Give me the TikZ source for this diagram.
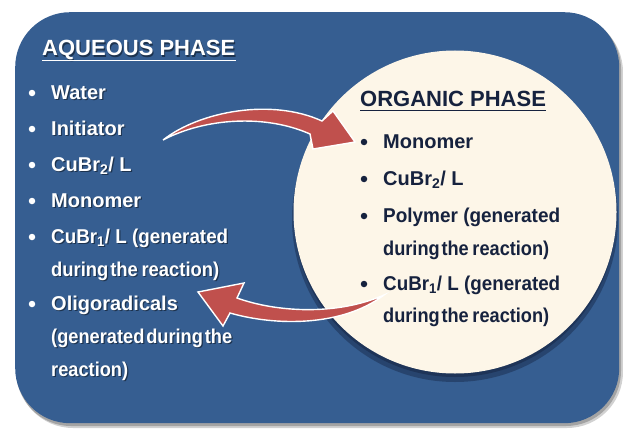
\documentclass[tikz,border=0pt]{standalone}
\usepackage{fontspec}
\usepackage{graphicx}
\setmainfont{Liberation Sans}
\definecolor{boxblue}{RGB}{54,94,145}
\definecolor{cream}{RGB}{253,246,232}
\definecolor{circshadow}{RGB}{30,52,88}
\definecolor{darktext}{RGB}{22,34,62}
\definecolor{arrowred}{RGB}{192,80,77}
\tikzset{
  itembase/.style={anchor=base west, inner sep=0pt, font=\bfseries\fontsize{20}{24}\selectfont},
  hdrbase/.style={anchor=base west, inner sep=0pt, font=\bfseries\fontsize{22}{26}\selectfont},
  wshadow/.style={text=black, opacity=0.45, xshift=1.2pt, yshift=-1.2pt},
  wbul/.style={circle, fill=white, inner sep=0pt, minimum size=6.5pt},
  dbul/.style={circle, fill=darktext, inner sep=0pt, minimum size=6.5pt},
  blockarrow/.style={fill=arrowred, draw=white, line width=1.4pt, line join=miter},
}
\newcommand\wline[4]{%
  \node[#1, wshadow] (#2s) at (#3) {#4};
  \node[#1, text=white] (#2) at (#3) {#4};}
\newcommand\fitw[2]{\resizebox{#1}{\height}{#2}}
\begin{document}
\begin{tikzpicture}[x=1pt,y=-1pt]
\useasboundingbox (0,0) rectangle (623,428);
% panel shadow
\fill[black, opacity=0.18, rounded corners=56] (17,16) rectangle (623,428);
\fill[black, opacity=0.22, rounded corners=55] (16,14) rectangle (621,426);
\node[fill=boxblue, rounded corners=55, minimum width=604pt, minimum height=411pt, inner sep=0pt, anchor=north west] (panel) at (15,12) {};
% circle
\fill[circshadow, opacity=0.6] (455,219) circle (163);
\fill[circshadow] (455,216) circle (161);
\node[circle, fill=cream, minimum size=323pt, inner sep=0pt] (org) at (455,212) {};

% left texts
\wline{hdrbase}{aq}{42,56}{AQUEOUS PHASE}
\draw[white, line width=1.3pt] ([yshift=-4.5pt]aq.base west) -- ([yshift=-4.5pt]aq.base east);
\wline{itembase}{l1}{51,99}{Water}
\wline{itembase}{l2}{51,135}{Initiator}
\wline{itembase}{l3}{51,171}{CuBr\textsubscript{2}/ L}
\wline{itembase}{l4}{51,207}{Monomer}
\wline{itembase}{l5}{51,243}{\fitw{177pt}{CuBr\textsubscript{1}/ L (generated}}
\wline{itembase}{l5b}{51,276}{\fitw{168pt}{during\hspace{2pt}the\hspace{4pt}reaction)}}
\wline{itembase}{l6}{51,310}{Oligoradicals}
\wline{itembase}{l6b}{51,343}{\fitw{181pt}{(generated\hspace{2pt}during\hspace{2pt}the}}
\wline{itembase}{l6c}{51,376}{\fitw{77pt}{reaction)}}
\foreach \y/\n in {93/1,129/2,165/3,201/4,237/5,304/6}
  \node[wbul] (lb\n) at (32,\y) {};

% right texts
\node[hdrbase, text=darktext] (orgh) at (360,106) {ORGANIC PHASE};
\draw[darktext, line width=1.3pt] ([yshift=-4.5pt]orgh.base west) -- ([yshift=-4.5pt]orgh.base east);
\node[itembase, text=darktext] (r1) at (383,148) {Monomer};
\node[itembase, text=darktext] (r2) at (383,185) {CuBr\textsubscript{2}/ L};
\node[itembase, text=darktext] (r3) at (383,222) {\fitw{177pt}{Polymer (generated}};
\node[itembase, text=darktext] (r3b) at (383,255) {\fitw{166pt}{during\hspace{2pt}the\hspace{4pt}reaction)}};
\node[itembase, text=darktext] (r4) at (383,290) {\fitw{177pt}{CuBr\textsubscript{1}/ L (generated}};
\node[itembase, text=darktext] (r4b) at (383,322) {\fitw{166pt}{during\hspace{2pt}the\hspace{4pt}reaction)}};
\foreach \y/\n in {142/1,179/2,216/3,284/4}
  \node[dbul] (rb\n) at (364,\y) {};

% arrows
\draw[blockarrow] (163,140) .. controls (200,111) and (272,98) .. (322,121)
  -- (333,111) -- (355,142) -- (313,149) -- (310,134)
  .. controls (265,114) and (205,118) .. (163,140) -- cycle;
\draw[blockarrow] (384,295) .. controls (342,327) and (275,326) .. (230,313)
  -- (223,326) -- (198,292) -- (244,283) -- (237,298)
  .. controls (276,312) and (336,316) .. (384,295) -- cycle;
\end{tikzpicture}
\end{document}
